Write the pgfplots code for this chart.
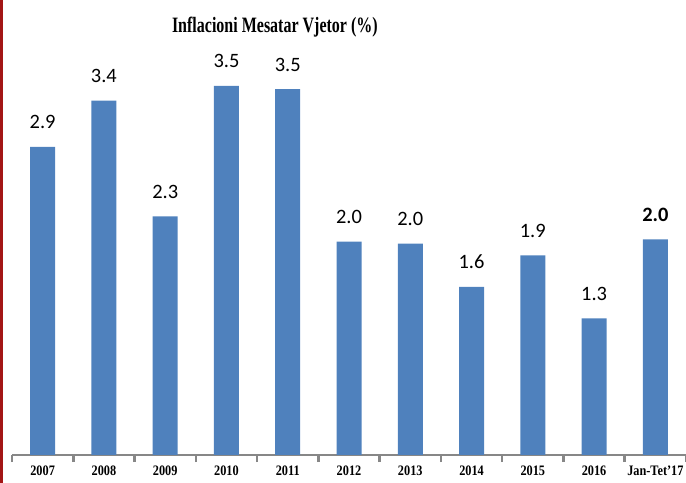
\documentclass[border=0pt]{standalone}
\usepackage{pgfplots}
\pgfplotsset{compat=1.18}
\usepackage{fontspec}
\setmainfont{Liberation Serif}
\newfontfamily\carlito{Carlito}
\newfontfamily\titlefont[FakeStretch=0.73]{Liberation Serif}
\newfontfamily\tickfont[FakeStretch=0.85]{Liberation Serif}
\definecolor{barblue}{HTML}{4F81BD}
\definecolor{axisgray}{HTML}{878787}
\definecolor{edgered}{HTML}{A31515}

\begin{document}
\begin{tikzpicture}
\useasboundingbox (0,0) rectangle (686bp,483bp);
% dark red rule at the left edge of the page
\fill[edgered] (0,0) rectangle (3bp,483bp);
\begin{axis}[
    at={(12bp,28bp)}, anchor=south west,
    scale only axis, width=674bp, height=410bp,
    xmin=-0.5, xmax=10.5, ymin=0, ymax=3.9,
    axis y line=none, axis x line*=bottom,
    x axis line style={axisgray, line width=2.5bp, -},
    xtick={0,...,10},
    xticklabels={2007,2008,2009,2010,2011,2012,2013,2014,2015,2016,Jan-Tet’17},
    major tick length=0pt,
    minor xtick={-0.5,0.5,...,10.5},
    minor tick length=7bp, tick align=outside,
    minor tick style={axisgray, line width=2.5bp},
    xticklabel style={font=\tickfont\bfseries\fontsize{14.5}{14.5}\selectfont, anchor=base, yshift=-21bp},
    ybar, bar width=25bp, clip=false,
    nodes near coords, point meta=explicit symbolic,
    every node near coord/.append style={font=\carlito\fontsize{20.5}{20.5}\selectfont,
        anchor=base, inner sep=0pt, yshift=18bp, black},
    title={\titlefont\bfseries Inflacioni Mesatar Vjetor (\%)},
    title style={at={(0.39,1)}, anchor=base, yshift=7bp, font=\fontsize{22}{22}\selectfont},
]
\addplot[fill=barblue, draw=none] coordinates {
    (0,2.93) [2.9]
    (1,3.37) [3.4]
    (2,2.27) [2.3]
    (3,3.51) [3.5]
    (4,3.48) [3.5]
    (5,2.03) [2.0]
    (6,2.01) [2.0]
    (7,1.60) [1.6]
    (8,1.90) [1.9]
    (9,1.30) [1.3]
    (10,2.05) [\textbf{2.0}]
};
\end{axis}
\end{tikzpicture}
\end{document}
